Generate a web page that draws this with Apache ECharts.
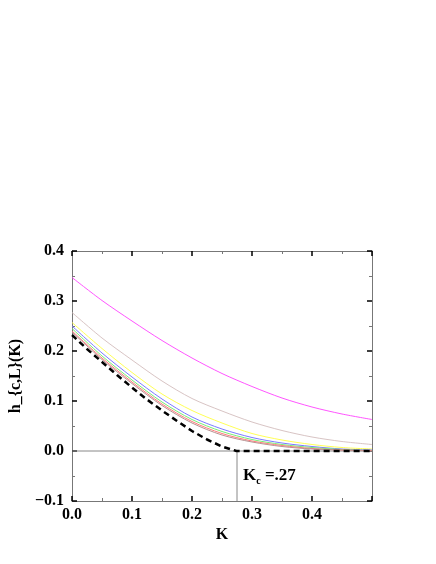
<!DOCTYPE html>
<html>
<head>
<meta charset="utf-8">
<script src="https://cdn.jsdelivr.net/npm/echarts@6/dist/echarts.min.js"></script>
<style>html,body{margin:0;padding:0;background:#fff;}#c{width:436px;height:564px;}</style>
</head>
<body>
<div id="c"></div>
<script>
// K values for the family of curves
var kValues = [0, 0.05, 0.1, 0.15, 0.2, 0.25, 0.3, 0.35, 0.4, 0.45, 0.5];
var magenta = [0.347, 0.301, 0.260, 0.221, 0.186, 0.155, 0.129, 0.106, 0.088, 0.074, 0.063];
var rosy    = [0.277, 0.226, 0.182, 0.140, 0.105, 0.080, 0.058, 0.041, 0.028, 0.019, 0.013];
var yellow  = [0.257, 0.205, 0.157, 0.114, 0.081, 0.056, 0.035, 0.022, 0.013, 0.007, 0.004];
var blue    = [0.250, 0.196, 0.148, 0.104, 0.068, 0.044, 0.027, 0.016, 0.009, 0.004, 0.002];
var green   = [0.245, 0.190, 0.142, 0.098, 0.063, 0.039, 0.023, 0.013, 0.007, 0.003, 0.001];
var red     = [0.240, 0.186, 0.138, 0.094, 0.059, 0.035, 0.020, 0.011, 0.005, 0.002, 0.001];
var brown   = [0.238, 0.183, 0.135, 0.091, 0.056, 0.032, 0.018, 0.009, 0.004, 0.002, 0.000];
// limit curve (black dashed)
var limitK = [0, 0.025, 0.05, 0.075, 0.1, 0.125, 0.15, 0.175, 0.2, 0.225, 0.25, 0.274, 0.5];
var limitH = [0.232, 0.204, 0.178, 0.152, 0.127, 0.103, 0.081, 0.060, 0.040, 0.023, 0.009, 0, 0];
// reference lines
var zeroLineK = [0, 0.5];
var zeroLineH = [0, 0];
var kc = 0.275;
var kcLineH = [0, -0.1];
var kcLabelPos = [0.285, -0.05];
var xTicks = ['0.0', '0.1', '0.2', '0.3', '0.4'];
var yTicks = ['−0.1', '0.0', '0.1', '0.2', '0.3', '0.4'];

function pairs(xs, ys) { return xs.map(function (x, i) { return [x, ys[i]]; }); }

var font = 'Liberation Serif';
var curves = [
  [magenta, '#ff55ff'],
  [rosy, '#d8c4c4'],
  [yellow, '#ffff55'],
  [blue, '#7b7bff'],
  [green, '#77ee77'],
  [red, '#ff7b7b'],
  [brown, '#b89090']
];
var series = [];
series.push({
  type: 'line', data: pairs(zeroLineK, zeroLineH), symbol: 'none', silent: true,
  lineStyle: { color: '#888', width: 1 }, z: 1
});
series.push({
  type: 'line', data: [[kc, kcLineH[0]], [kc, kcLineH[1]]], symbol: 'none', silent: true,
  lineStyle: { color: '#888', width: 1 }, z: 1
});
curves.forEach(function (c) {
  series.push({
    type: 'line', data: pairs(kValues, c[0]), symbol: 'none', smooth: 0.3,
    lineStyle: { color: c[1], width: 1 }, z: 2
  });
});
series.push({
  type: 'line', data: pairs(limitK, limitH), symbol: 'none', smooth: false,
  lineStyle: { color: '#000', width: 2.5, type: [6, 4] }, z: 3
});

function fmtX(v) {
  var i = Math.round(v * 10);
  return i >= 0 && i < xTicks.length ? xTicks[i] : '';
}
function fmtY(v) {
  var i = Math.round(v * 10) + 1;
  return i >= 0 && i < yTicks.length ? yTicks[i] : '';
}

var axisLine = { show: true, onZero: false, lineStyle: { color: '#777', width: 1 } };
var tick = { show: true, inside: true, length: 5, lineStyle: { color: '#000', width: 1.5 } };
var minor = { show: true, splitNumber: 2, length: 3, lineStyle: { color: '#777', width: 1 } };
var lbl = { fontFamily: font, fontWeight: 'bold', fontSize: 16, color: '#000' };

var chart = echarts.init(document.getElementById('c'));
chart.setOption({
  animation: false,
  backgroundColor: '#fff',
  grid: { left: 72, right: 64, top: 251, bottom: 63 },
  xAxis: [
    {
      type: 'value', min: 0, max: 0.5, interval: 0.1, position: 'bottom',
      axisLine: axisLine, axisTick: tick, minorTick: minor, splitLine: { show: false },
      axisLabel: Object.assign({ formatter: fmtX, margin: 6, showMaxLabel: true }, lbl),
      name: 'K', nameLocation: 'middle', nameGap: 26,
      nameTextStyle: { fontFamily: font, fontWeight: 'bold', fontSize: 16, color: '#000' }
    },
    {
      type: 'value', min: 0, max: 0.5, interval: 0.1, position: 'top',
      axisLine: axisLine, axisTick: tick, minorTick: minor, splitLine: { show: false },
      axisLabel: { show: false }
    }
  ],
  yAxis: [
    {
      type: 'value', min: -0.1, max: 0.4, interval: 0.1, position: 'left',
      axisLine: axisLine, axisTick: tick, minorTick: minor, splitLine: { show: false },
      axisLabel: Object.assign({ formatter: fmtY, margin: 8 }, lbl),
      name: 'h_{c,L}(K)', nameLocation: 'middle', nameGap: 46, nameRotate: 90,
      nameTextStyle: { fontFamily: font, fontWeight: 'bold', fontSize: 16, color: '#000' }
    },
    {
      type: 'value', min: -0.1, max: 0.4, interval: 0.1, position: 'right',
      axisLine: axisLine, axisTick: tick, minorTick: minor, splitLine: { show: false },
      axisLabel: { show: false }
    }
  ],
  series: series
});

var p = chart.convertToPixel({ xAxisIndex: 0, yAxisIndex: 0 }, kcLabelPos);
chart.setOption({
  graphic: [{
    type: 'text', x: p[0], y: p[1], z: 10, silent: true,
    style: {
      text: '{a|K}{b|c}{a| =.27}',
      verticalAlign: 'middle', align: 'left',
      font: 'bold 17px "Liberation Serif"', fill: '#000',
      rich: {
        a: { font: 'bold 17px "Liberation Serif"', fill: '#000' },
        b: { font: 'bold 10px "Liberation Serif"', fill: '#000', padding: [11, 0, 0, 0] }
      }
    }
  }]
});
</script>
</body>
</html>
